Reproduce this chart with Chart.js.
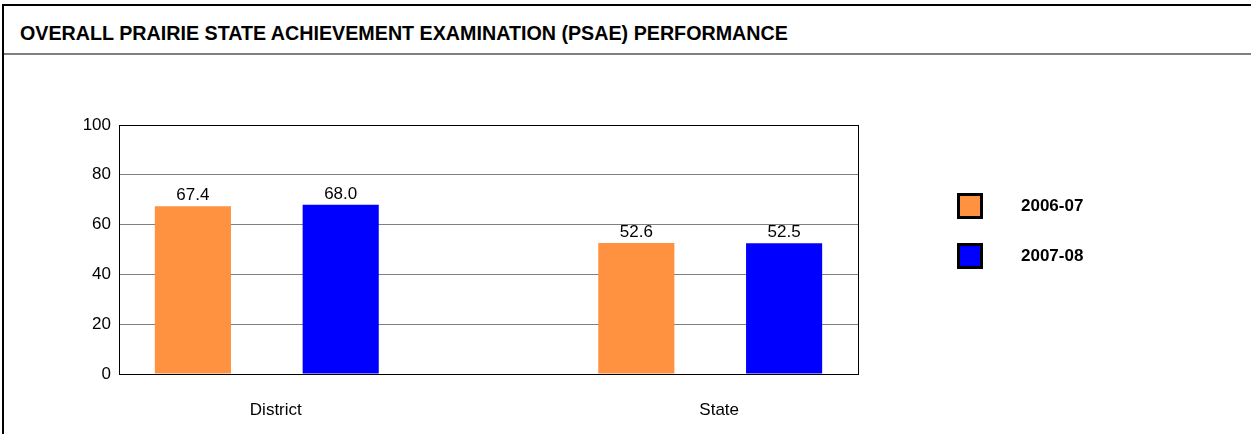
<html>
  <head>
    <title>PSAE Performance</title>
    <style>
      body { margin: 0; background: #fff; font-family: "Liberation Sans", Arial, sans-serif; }
      #wrap { position: relative; width: 1251px; height: 434px; overflow: hidden; }
      #frame { position: absolute; left: 2px; top: 4px; right: 0; bottom: 0; border-left: 2px solid #000; border-top: 2px solid #000; }
      #head { height: 47px; border-bottom: 2px solid #808080; box-sizing: content-box; }
      #head h1 { margin: 0; padding: 8px 0 0 16px; font-size: 19.7px; font-weight: bold; line-height: 38px; color: #000; white-space: nowrap; }
      #myChart { position: absolute; left: 0; top: 0; }
      #legend { position: absolute; left: 957px; top: 193px; }
      .item { display: flex; align-items: center; height: 26px; margin-bottom: 24px; }
      .box { width: 26px; height: 26px; box-sizing: border-box; border: 3px solid #000; }
      .item span { margin-left: 38px; font-size: 17px; font-weight: bold; color: #000; }
    </style>
  </head>
  <body>
    <div id="wrap">
      <div id="frame">
        <div id="head"><h1>OVERALL PRAIRIE STATE ACHIEVEMENT EXAMINATION (PSAE) PERFORMANCE</h1></div>
      </div>
      <canvas id="myChart" width="1251" height="434"></canvas>
      <div id="legend"></div>
    </div>
  </body>
</html>

<script src="https://cdn.jsdelivr.net/npm/chart.js"></script>
<script>
  var categories = ['District', 'State'];
  var seriesNames = ['2006-07', '2007-08'];
  var values0607 = [67.4, 52.6];
  var values0708 = [68.0, 52.5];
  var seriesColors = ['#FF9241', '#0000FF'];
  var yTicks = [0, 20, 40, 60, 80, 100];

  var allValues = [values0607, values0708];

  // every bar gets its own slot, with one empty slot between the groups
  var groupSize = seriesNames.length + 1;
  var slotCount = categories.length * groupSize - 1;
  var slots = [];
  for (var i = 0; i < slotCount; i++) slots.push('');

  var datasets = seriesNames.map(function(name, s){
    var data = slots.map(function(){ return null; });
    categories.forEach(function(c, ci){
      data[ci * groupSize + s] = allValues[s][ci];
    });
    return {
      label: name,
      data: data,
      backgroundColor: seriesColors[s],
      borderWidth: 0,
      grouped: false,
      categoryPercentage: 1,
      barPercentage: 0.515
    };
  });

  // html legend
  var legendEl = document.getElementById('legend');
  seriesNames.forEach(function(name, s){
    var item = document.createElement('div');
    item.className = 'item';
    item.innerHTML = '<div class="box" style="background:' + seriesColors[s] + '"></div><span>' + name + '</span>';
    legendEl.appendChild(item);
  });

  const valueLabels = {
    id: 'valueLabels',
    afterDatasetsDraw(chart) {
      const ctx = chart.ctx;
      ctx.save();
      ctx.font = '17px "Liberation Sans", Arial, sans-serif';
      ctx.fillStyle = '#000';
      ctx.textAlign = 'center';
      ctx.textBaseline = 'alphabetic';
      chart.data.datasets.forEach((ds, i) => {
        chart.getDatasetMeta(i).data.forEach((bar, j) => {
          if (ds.data[j] == null) return;
          ctx.fillText(ds.data[j].toFixed(1), bar.x, bar.y - 6);
        });
      });
      ctx.restore();
    }
  };

  Chart.defaults.font.family = '"Liberation Sans", Arial, sans-serif';
  Chart.defaults.font.size = 17;
  Chart.defaults.color = '#000';

  const ctx = document.getElementById('myChart').getContext('2d');
  const myChart = new Chart(ctx, {
    type: 'bar',
    data: { labels: slots, datasets: datasets },
    plugins: [valueLabels],
    options: {
      responsive: false,
      animation: false,
      layout: { padding: { left: 0, top: 125, right: 393, bottom: 0 } },
      plugins: {
        legend: { display: false },
        tooltip: { enabled: false }
      },
      scales: {
        x: {
          offset: true,
          grid: { display: false },
          border: { display: false },
          ticks: { display: false },
          afterFit: function(s){ s.height = 0; }
        },
        x2: {
          type: 'linear',
          position: 'bottom',
          offset: false,
          min: 0,
          max: slotCount,
          grid: { display: false },
          border: { display: false },
          afterBuildTicks: function(axis){
            axis.ticks = categories.map(function(c, ci){
              return { value: ci * groupSize + seriesNames.length / 2 };
            });
          },
          ticks: {
            padding: 18,
            labelOffset: 9,
            maxRotation: 0,
            callback: function(v){
              return categories[Math.round((v - seriesNames.length / 2) / groupSize)];
            }
          },
          afterFit: function(s){ s.height = 60; }
        },
        y: {
          min: 0,
          max: 100,
          afterBuildTicks: function(axis){
            axis.ticks = yTicks.map(function(v){ return { value: v }; });
          },
          grid: {
            drawTicks: false,
            lineWidth: 1,
            color: function(c){
              return (c.tick.value === 0 || c.tick.value === 100) ? '#000' : '#808080';
            }
          },
          border: { color: '#000', width: 1 },
          ticks: { padding: 8 },
          afterFit: function(s){ s.width = 119; }
        },
        yr: {
          position: 'right',
          min: 0,
          max: 100,
          grid: { display: false },
          ticks: { display: false },
          border: { color: '#000', width: 1 },
          afterFit: function(s){ s.width = 0; }
        }
      }
    }
  });
</script>
